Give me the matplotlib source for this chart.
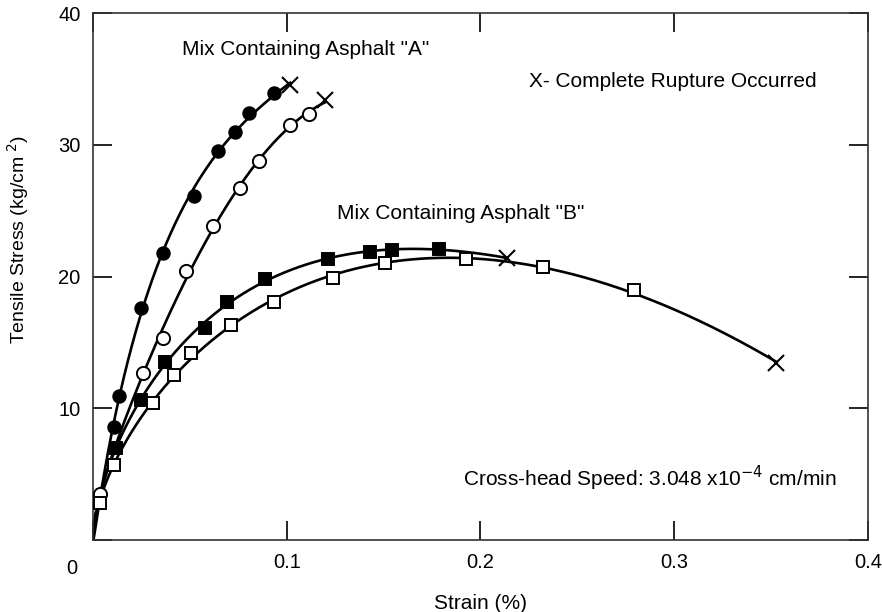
import matplotlib
matplotlib.use("Agg")
import matplotlib.pyplot as plt
import numpy as np

# Asphalt "A" - filled circles
a1_strain = [0.0108, 0.0134, 0.0247, 0.036, 0.0519, 0.0643, 0.0735, 0.0807, 0.0936]
a1_stress = [8.6, 10.9, 17.6, 21.8, 26.1, 29.5, 31.0, 32.4, 33.9]
a1_rupture = (0.1018, 34.5)

# Asphalt "A" - open circles
a2_strain = [0.0036, 0.0257, 0.036, 0.0478, 0.0617, 0.0761, 0.0859, 0.1018, 0.1116]
a2_stress = [3.5, 12.65, 15.3, 20.4, 23.8, 26.7, 28.8, 31.5, 32.3]
a2_rupture = (0.1198, 33.4)

# Asphalt "B" - filled squares
b1_strain = [0.0118, 0.0247, 0.037, 0.0576, 0.0694, 0.089, 0.1213, 0.1429, 0.1542, 0.1784]
b1_stress = [7.0, 10.6, 13.5, 16.1, 18.1, 19.85, 21.3, 21.9, 22.0, 22.1]
b1_rupture = (0.2139, 21.4)

# Asphalt "B" - open squares
b2_strain = [0.0036, 0.0108, 0.0308, 0.0416, 0.0504, 0.0715, 0.0936, 0.1239,
             0.1506, 0.1923, 0.2324, 0.2792]
b2_stress = [2.8, 5.7, 10.4, 12.5, 14.2, 16.3, 18.1, 19.9, 21.06, 21.3, 20.7, 19.0]
b2_rupture = (0.3527, 13.4)

FONT = ['Liberation Sans', 'DejaVu Sans']
plt.rcParams['font.family'] = FONT
plt.rcParams['font.size'] = 15


def smooth_curve(xs, ys, end):
    # least squares fit through the origin, drawn up to the rupture point
    x = np.append(np.array(xs), end[0])
    y = np.append(np.array(ys), end[1])
    basis = lambda t: np.column_stack([np.sqrt(t), t, t ** 1.5, t ** 2])
    coef, *_ = np.linalg.lstsq(basis(x), y, rcond=None)
    xx = np.linspace(0, end[0], 300)
    return xx, basis(xx) @ coef


fig = plt.figure(figsize=(8.82, 6.12), dpi=100)
ax = fig.add_axes([0.1054, 0.1176, 0.8787, 0.8611])

series = [
    (a1_strain, a1_stress, a1_rupture, 'o', 'black', 9),
    (a2_strain, a2_stress, a2_rupture, 'o', 'white', 9.5),
    (b1_strain, b1_stress, b1_rupture, 's', 'black', 8.5),
    (b2_strain, b2_stress, b2_rupture, 's', 'white', 8.5),
]
for xs, ys, end, mk, fc, ms in series:
    cx, cy = smooth_curve(xs, ys, end)
    ax.plot(cx, cy, color='black', lw=1.9, zorder=2)
    ax.plot(xs, ys, linestyle='none', marker=mk, markersize=ms,
            markerfacecolor=fc, markeredgecolor='black', markeredgewidth=1.4, zorder=3)
    ax.plot(end[0], end[1], marker='x', markersize=11, color='black',
            markeredgewidth=1.5, zorder=4)

ax.set_xlim(0, 0.4)
ax.set_ylim(0, 40)
ax.set_xticks([0, 0.1, 0.2, 0.3, 0.4])
ax.set_xticklabels(['', '0.1', '0.2', '0.3', '0.4'])
ax.set_yticks([0, 10, 20, 30, 40])
ax.set_yticklabels(['', '10', '20', '30', '40'])
ax.tick_params(direction='in', length=14, width=1.2, top=True, right=True, pad=9,
               labelsize=14.5)
for sp in ax.spines.values():
    sp.set_linewidth(1.2)
    sp.set_color('#333333')

ax.annotate('0', xy=(0, 0), xytext=(-21, -28), textcoords='offset pixels',
            ha='center', va='center', fontsize=14.5)

ax.set_xlabel('Strain (%)', labelpad=16)
ax.set_ylabel('Tensile Stress (kg/cm$^{\\ 2}$)', fontsize=14)
ax.yaxis.set_label_coords(-0.08, 0.57)

ax.text(0.046, 37.2, 'Mix Containing Asphalt "A"', ha='left', va='center')
ax.text(0.225, 34.8, 'X- Complete Rupture Occurred', ha='left', va='center')
ax.text(0.126, 24.8, 'Mix Containing Asphalt "B"', ha='left', va='center')
ax.text(0.191, 4.7, 'Cross-head Speed: 3.048 x10$^{-4}$ cm/min', ha='left', va='center')

fig.savefig('out.png', dpi=100)
